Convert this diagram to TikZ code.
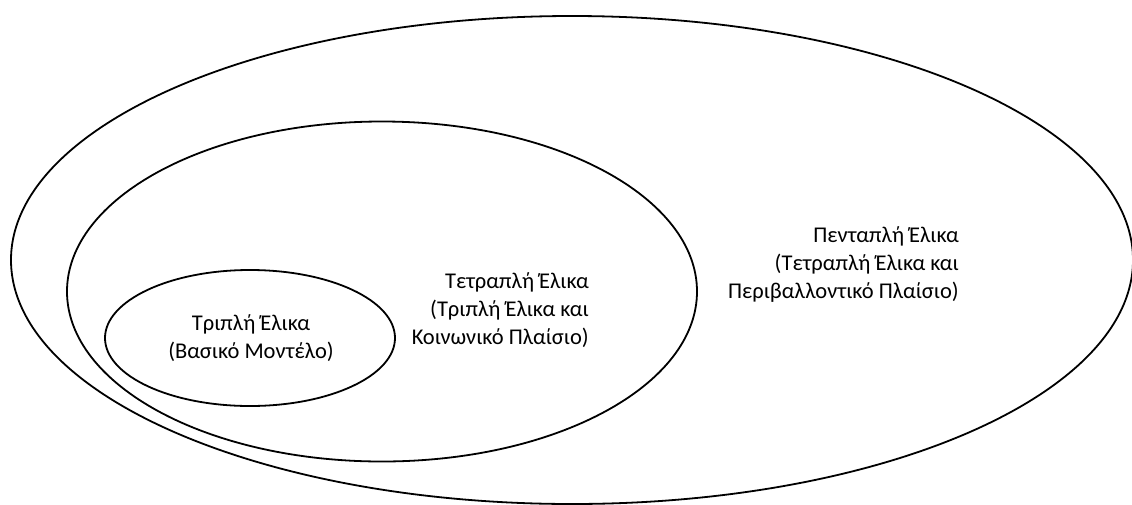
\documentclass[tikz,border=0pt]{standalone}
\usepackage{fontspec}
\setmainfont{Carlito}
\begin{document}
\begin{tikzpicture}[x=1pt,y=-1pt,
  ring/.style={draw=black,line width=1.8pt},
  label/.style={font=\fontsize{22.5}{28}\selectfont,inner sep=0pt,text=black}]
\useasboundingbox (0,0) rectangle (1132,504);
% nested ellipses
\draw[ring] (572,260) ellipse [x radius=561,y radius=244];
\draw[ring] (382,291.5) ellipse [x radius=315,y radius=170];
\draw[ring] (250,338) ellipse [x radius=145,y radius=68];
% labels
\node[label,align=center,anchor=north] (tri) at (251,314)
  {Τριπλή Έλικα\\(Βασικό Μοντέλο)};
\node[label,align=right,anchor=north east] (tetra) at (589,272)
  {Τετραπλή Έλικα\\(Τριπλή Έλικα και\\Κοινωνικό Πλαίσιο)};
\node[label,align=right,anchor=north east] (penta) at (959,226)
  {Πενταπλή Έλικα\\(Τετραπλή Έλικα και\\Περιβαλλοντικό Πλαίσιο)};
\end{tikzpicture}
\end{document}
